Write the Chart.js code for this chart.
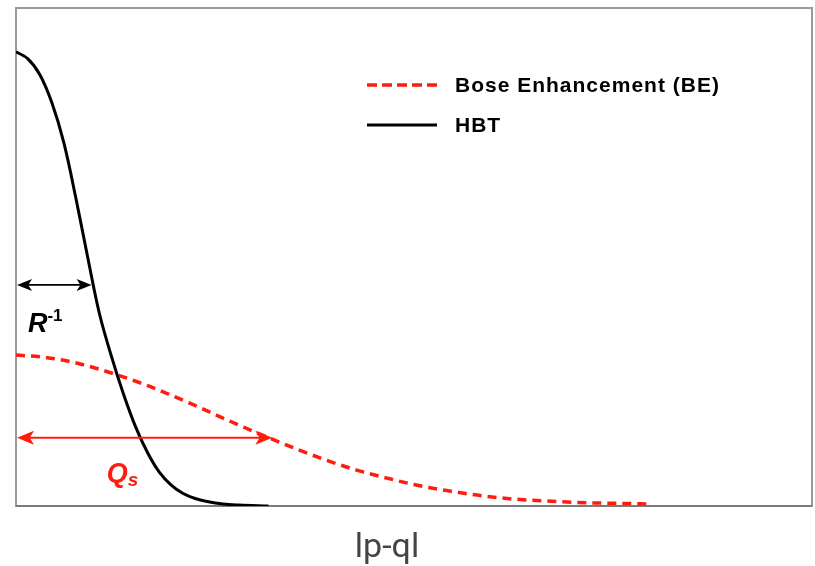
<!DOCTYPE html>
<html>
<head>
<meta charset="utf-8">
<script src="https://cdn.jsdelivr.net/npm/chart.js@4"></script>
<style>
html, body { margin: 0; padding: 0; background: #fff; }
#wrap { width: 815px; height: 566px; }
</style>
</head>
<body>
<div id="wrap"><canvas id="hbtChart" width="815" height="566"></canvas></div>
<script>
// valores (x em unidades arbitrarias 0-100, y 0-1)
const hbtX = [0, 1.5, 3, 4.5, 6, 7.5, 9, 10.5, 12, 13.5, 15, 16.5, 18, 19.5, 21, 22.5, 24, 26, 28, 31.7];
const hbtY = [0.912, 0.898, 0.866, 0.810, 0.730, 0.620, 0.500, 0.385, 0.300, 0.225, 0.160, 0.108, 0.068, 0.042, 0.025, 0.015, 0.009, 0.004, 0.002, 0];

const beX = [0, 3.4, 7.6, 12.2, 16.8, 21.9, 26.5, 31.9, 35.3, 39.0, 42.8, 46.6, 50.3, 54.1, 57.9, 61.7, 65.4, 69.2, 73.0, 76.7, 79.5];
const beY = [0.303, 0.299, 0.287, 0.266, 0.240, 0.206, 0.173, 0.136, 0.114, 0.092, 0.072, 0.056, 0.042, 0.031, 0.022, 0.015, 0.011, 0.008, 0.006, 0.005, 0.004];

const seriesLabels = ["Bose Enhancement (BE)", "HBT"];
const axisLabel = "lp-ql";

// setas: [x inicio, x fim, y]
const rArrow = [0, 9.5, 0.444];
const qsArrow = [0, 32.2, 0.137];
const rLabelPos = [1.5, 0.35];
const qsLabelPos = [11.4, 0.048];

const RED = "rgb(255, 28, 12)";

function toPoints(xs, ys) {
    return xs.map((x, i) => ({ x: x, y: ys[i] }));
}

function drawArrow(ctx, x1, x2, y, color, lw, hl, hw) {
    ctx.save();
    ctx.strokeStyle = color;
    ctx.fillStyle = color;
    ctx.lineWidth = lw;
    ctx.beginPath();
    ctx.moveTo(x1 + 4, y);
    ctx.lineTo(x2 - 4, y);
    ctx.stroke();
    // pontas das setas
    [[x1, 1], [x2, -1]].forEach(([tx, d]) => {
        ctx.beginPath();
        ctx.moveTo(tx, y);
        ctx.lineTo(tx + d * hl, y - hw);
        ctx.lineTo(tx + d * hl * 0.75, y);
        ctx.lineTo(tx + d * hl, y + hw);
        ctx.closePath();
        ctx.fill();
    });
    ctx.restore();
}

const framePlugin = {
    id: 'frame',
    beforeDatasetsDraw(chart) {
        const { ctx, chartArea: a } = chart;
        ctx.save();
        ctx.strokeStyle = "#9a9a9a";
        ctx.lineWidth = 2;
        ctx.strokeRect(a.left, a.top, a.right - a.left, a.bottom - a.top);
        ctx.strokeStyle = "#7a7a7a";
        ctx.beginPath();
        ctx.moveTo(a.left, a.bottom);
        ctx.lineTo(a.right, a.bottom);
        ctx.stroke();
        ctx.restore();
    }
};

const notesPlugin = {
    id: 'notes',
    afterDatasetsDraw(chart) {
        const { ctx, chartArea: a } = chart;
        const xs = chart.scales.x, ys = chart.scales.y;

        drawArrow(ctx, xs.getPixelForValue(rArrow[0]) + 1, xs.getPixelForValue(rArrow[1]),
            ys.getPixelForValue(rArrow[2]), "#000", 1.6, 15, 6);
        drawArrow(ctx, xs.getPixelForValue(qsArrow[0]) + 1, xs.getPixelForValue(qsArrow[1]),
            ys.getPixelForValue(qsArrow[2]), RED, 1.8, 17, 7);

        ctx.save();
        ctx.textBaseline = "alphabetic";
        ctx.textAlign = "left";
        // R^-1
        let px = xs.getPixelForValue(rLabelPos[0]);
        let py = ys.getPixelForValue(rLabelPos[1]);
        ctx.fillStyle = "#000";
        ctx.font = "italic bold 27px 'Liberation Sans', Arial, sans-serif";
        ctx.fillText("R", px, py);
        let w = ctx.measureText("R").width;
        ctx.font = "bold 17px 'Liberation Sans', Arial, sans-serif";
        ctx.fillText("-1", px + w, py - 11);
        // Q_s
        px = xs.getPixelForValue(qsLabelPos[0]);
        py = ys.getPixelForValue(qsLabelPos[1]);
        ctx.fillStyle = RED;
        ctx.font = "italic bold 27px 'Liberation Sans', Arial, sans-serif";
        ctx.fillText("Q", px, py);
        w = ctx.measureText("Q").width;
        ctx.font = "italic bold 19px 'Liberation Sans', Arial, sans-serif";
        ctx.fillText("s", px + w, py + 4);

        // legenda
        const lx = a.left + 351, tx = a.left + 439;
        const rows = [a.top + 77, a.top + 117];
        chart.data.datasets.forEach((ds, i) => {
            ctx.beginPath();
            ctx.strokeStyle = ds.borderColor;
            ctx.lineWidth = i === 0 ? 3.5 : 3;
            ctx.setLineDash(i === 0 ? [10, 5] : []);
            ctx.moveTo(lx, rows[i]);
            ctx.lineTo(lx + 70, rows[i]);
            ctx.stroke();
            ctx.setLineDash([]);
            ctx.fillStyle = "#000";
            ctx.font = "bold 21px 'Liberation Sans', Arial, sans-serif";
            ctx.letterSpacing = "1px";
            ctx.textBaseline = "middle";
            ctx.fillText(ds.label, tx, rows[i] + 1);
            ctx.letterSpacing = "0px";
        });

        // titulo do eixo x
        ctx.fillStyle = "#444";
        ctx.font = "34px Roboto, sans-serif";
        ctx.textAlign = "center";
        ctx.textBaseline = "alphabetic";
        ctx.fillText(axisLabel, a.left + 371, a.bottom + 51);
        ctx.restore();
    }
};

const ctx = document.getElementById('hbtChart').getContext('2d');
const chart = new Chart(ctx, {
    type: "line",
    data: {
        datasets: [
            {
                label: seriesLabels[0],
                data: toPoints(beX, beY),
                borderColor: RED,
                borderWidth: 3.5,
                borderDash: [9, 6],
                pointRadius: 0,
                cubicInterpolationMode: "monotone",
                fill: false,
                order: 1
            },
            {
                label: seriesLabels[1],
                data: toPoints(hbtX, hbtY),
                borderColor: "#000",
                borderWidth: 3,
                pointRadius: 0,
                tension: 0.35,
                fill: false,
                order: 0
            }
        ]
    },
    options: {
        responsive: false,
        animation: false,
        devicePixelRatio: 1,
        layout: { padding: { left: 16, top: 8, right: 3, bottom: 60 } },
        plugins: { legend: { display: false }, tooltip: { enabled: false } },
        scales: {
            x: { type: "linear", min: 0, max: 100, display: false },
            y: { min: 0, max: 1, display: false }
        }
    },
    plugins: [framePlugin, notesPlugin]
});
</script>
</body>
</html>
